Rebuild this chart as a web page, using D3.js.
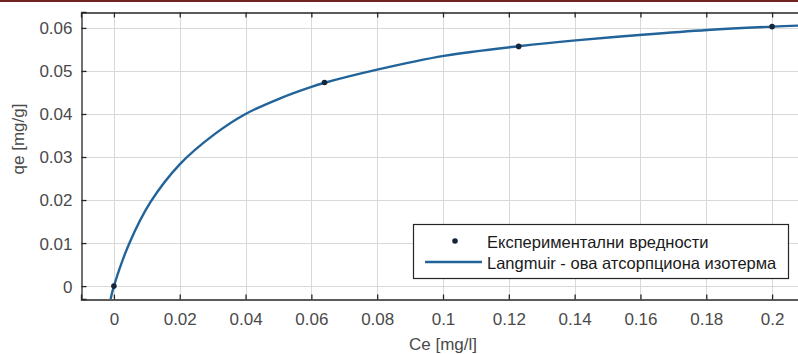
<!DOCTYPE html>
<html>
<head>
<meta charset="utf-8">
<script src="https://cdn.jsdelivr.net/npm/d3@7"></script>
<style>
  body { margin: 0; background: #fff; }
  svg { display: block; font-family: "Liberation Sans", Arial, sans-serif; }
  .grid line { stroke: #d9d9d9; stroke-width: 1; }
  .tick-label { fill: #4a4a4a; font-size: 17px; }
</style>
</head>
<body>
<svg id="chart" width="798" height="354"></svg>
<script>
// measured points
var ceData = [0, 0.064, 0.123, 0.2];
var qeData = [0, 0.0473, 0.0557, 0.0603];

// fitted Langmuir curve
var curveCe = [-0.001, 0, 0.0046, 0.0111, 0.02, 0.0304, 0.04, 0.0507, 0.06, 0.0638, 0.08, 0.1003, 0.1236, 0.1403, 0.1606, 0.1804, 0.2004, 0.21];
var curveQe = [-0.003, 0, 0.0098, 0.0195, 0.0283, 0.0352, 0.0400, 0.0437, 0.0463, 0.0472, 0.0503, 0.0535, 0.0558, 0.0571, 0.0584, 0.0595, 0.0603, 0.0606];

var xTicks = [0, 0.02, 0.04, 0.06, 0.08, 0.1, 0.12, 0.14, 0.16, 0.18, 0.2];
var yTicks = [0, 0.01, 0.02, 0.03, 0.04, 0.05, 0.06];

var legendLabels = ["Експериментални вредности", "Langmuir - ова атсорпциона изотерма"];

(function(){
  var svg = d3.select("#chart");

  var pL = 81, pR = 805, pT = 12, pB = 299;

  var x = d3.scaleLinear().domain([-0.01, 0.21]).range([pL, pR]);
  var y = d3.scaleLinear().domain([-0.003, 0.0637]).range([pB, pT]);

  // thin dark red band at the very top of the image
  svg.append("rect").attr("x", 0).attr("y", 0).attr("width", 798).attr("height", 2).attr("fill", "#6e2222");

  svg.append("defs").append("clipPath").attr("id", "clip")
    .append("rect").attr("x", pL).attr("y", pT).attr("width", pR - pL).attr("height", pB - pT);

  // grid
  var grid = svg.append("g").attr("class", "grid");
  grid.selectAll(".vx").data(xTicks).enter().append("line")
    .attr("x1", function(d){ return Math.round(x(d)) + 0.5; })
    .attr("x2", function(d){ return Math.round(x(d)) + 0.5; })
    .attr("y1", pT).attr("y2", pB);
  grid.selectAll(".hy").data(yTicks).enter().append("line")
    .attr("y1", function(d){ return Math.round(y(d)) + 0.5; })
    .attr("y2", function(d){ return Math.round(y(d)) + 0.5; })
    .attr("x1", pL).attr("x2", pR);

  // axes (MATLAB box style, ticks inward)
  var axisColor = "#262626";
  var xb = svg.append("g").attr("transform", "translate(0," + (pB + 0.5) + ")")
    .call(d3.axisBottom(x).tickValues(xTicks).tickSize(-5).tickFormat(d3.format("")));
  var xt = svg.append("g").attr("transform", "translate(0," + (pT + 0.5) + ")")
    .call(d3.axisTop(x).tickValues(xTicks).tickSize(-5).tickFormat(""));
  var yl = svg.append("g").attr("transform", "translate(" + (pL + 0.5) + ",0)")
    .call(d3.axisLeft(y).tickValues(yTicks).tickSize(-5).tickFormat(d3.format("")));
  var yr = svg.append("g").attr("transform", "translate(" + (pR - 0.5) + ",0)")
    .call(d3.axisRight(y).tickValues(yTicks).tickSize(-5).tickFormat(""));

  [xb, xt, yl, yr].forEach(function(g){
    g.attr("font-family", null).attr("font-size", null);
    g.select(".domain").attr("stroke", axisColor).attr("stroke-width", 1.3);
    g.selectAll(".tick line").attr("stroke", axisColor).attr("stroke-width", 1.3);
    g.selectAll(".tick text").attr("class", "tick-label").attr("fill", null);
  });
  xb.selectAll(".tick text").attr("y", 13).attr("dy", "0.71em");
  yl.selectAll(".tick text").attr("x", -9).attr("dy", "0.35em");

  // curve
  var line = d3.line()
    .x(function(d, i){ return x(curveCe[i]); })
    .y(function(d, i){ return y(curveQe[i]); })
    .curve(d3.curveCatmullRom.alpha(0.5));

  svg.append("path")
    .datum(curveCe)
    .attr("clip-path", "url(#clip)")
    .attr("d", line)
    .attr("fill", "none")
    .attr("stroke", "#22649a")
    .attr("stroke-width", 2.4);

  // experimental points
  svg.selectAll(".pt").data(ceData).enter().append("circle")
    .attr("cx", function(d){ return x(d); })
    .attr("cy", function(d, i){ return y(qeData[i]); })
    .attr("r", 2.8)
    .attr("fill", "#15263a");

  // axis labels
  svg.append("text")
    .attr("x", (pL + pR) / 2).attr("y", 350)
    .attr("text-anchor", "middle")
    .attr("class", "tick-label")
    .text("Ce [mg/l]");

  svg.append("text")
    .attr("transform", "translate(24,139) rotate(-90)")
    .attr("text-anchor", "middle")
    .attr("class", "tick-label")
    .text("qe [mg/g]");

  // legend
  var lg = svg.append("g").attr("transform", "translate(413,224)");
  lg.append("rect").attr("x", 0.5).attr("y", 0.5).attr("width", 375).attr("height", 54)
    .attr("fill", "#fff").attr("stroke", axisColor).attr("stroke-width", 1.2);
  lg.append("circle").attr("cx", 42).attr("cy", 17).attr("r", 2.8).attr("fill", "#15263a");
  lg.append("line").attr("x1", 12).attr("x2", 69).attr("y1", 38).attr("y2", 38)
    .attr("stroke", "#22649a").attr("stroke-width", 2.4);
  lg.selectAll(".lt").data(legendLabels).enter().append("text")
    .attr("x", 74)
    .attr("y", function(d, i){ return 18 + i * 21; })
    .attr("dy", "0.35em")
    .attr("fill", "#1a1a1a")
    .style("font-size", "16.5px")
    .text(function(d){ return d; });
})();
</script>
</body>
</html>
